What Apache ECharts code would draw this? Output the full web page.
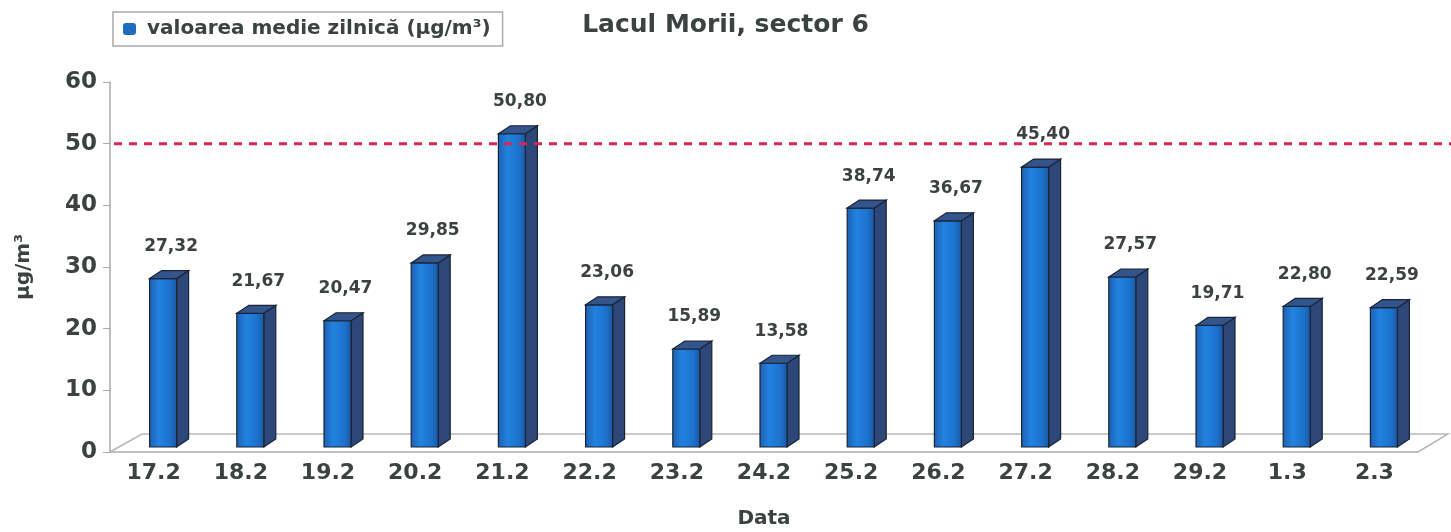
<!DOCTYPE html>
<html>
<head>
<meta charset="utf-8">
<script src="https://cdn.jsdelivr.net/npm/echarts@6/dist/echarts.min.js"></script>
<style>
    html, body { margin: 0; padding: 0; background: #fff; }
    #main { width: 1451px; height: 532px; }
</style>
</head>
<body>
<div id="main"></div>
<script>
var categories = ['17.2', '18.2', '19.2', '20.2', '21.2', '22.2', '23.2', '24.2', '25.2', '26.2', '27.2', '28.2', '29.2', '1.3', '2.3'];
var dailyMean = [27.32, 21.67, 20.47, 29.85, 50.80, 23.06, 15.89, 13.58, 38.74, 36.67, 45.40, 27.57, 19.71, 22.80, 22.59];
var limitValue = [50];
var yTicks = [0, 10, 20, 30, 40, 50, 60];

var chartDom = document.getElementById('main');
var myChart = echarts.init(chartDom);

initial();

function initial() {
    var textFont = 'DejaVu Sans, sans-serif';
    var textColor = '#3c4242';

    // 3D bar: front face, side face, top face + value label
    function renderBar(params, api) {
        var i = api.value(0);
        var v = api.value(1);
        var base = api.coord([i, 0]);
        var top = api.coord([i, v]);
        var bw = 27, dx = 12, dy = 8, lift = 5;
        var x0 = base[0] - 4;
        var x1 = x0 + bw;
        var yb = base[1] - lift;
        var yt = top[1] - lift;
        var stroke = '#1a2436';

        return {
            type: 'group',
            children: [
                {
                    type: 'polygon',
                    shape: { points: [[x1, yb], [x1 + dx, yb - dy], [x1 + dx, yt - dy], [x1, yt]] },
                    style: { fill: '#2c4778', stroke: stroke, lineWidth: 1.2 }
                },
                {
                    type: 'rect',
                    shape: { x: x0, y: yt, width: bw, height: yb - yt },
                    style: {
                        fill: new echarts.graphic.LinearGradient(0, 0, 1, 0, [
                            { offset: 0, color: '#1d5fb0' },
                            { offset: 0.35, color: '#2283e0' },
                            { offset: 0.75, color: '#1c72cc' },
                            { offset: 1, color: '#1a56a0' }
                        ]),
                        stroke: stroke,
                        lineWidth: 1.2
                    }
                },
                {
                    type: 'polygon',
                    shape: { points: [[x0, yt], [x0 + dx, yt - dy], [x1 + dx, yt - dy], [x1, yt]] },
                    style: { fill: '#34548c', stroke: stroke, lineWidth: 1.2 }
                },
                {
                    type: 'text',
                    x: x0 + bw / 2 + 8,
                    y: yt - 32,
                    style: {
                        text: v.toFixed(2).replace('.', ','),
                        font: 'bold 17px ' + textFont,
                        fill: textColor,
                        align: 'center',
                        verticalAlign: 'middle'
                    }
                }
            ]
        };
    }

    // grey floor parallelogram under the bars
    function renderFloor(params, api) {
        var cs = params.coordSys;
        var left = cs.x, right = cs.x + cs.width, y = cs.y + cs.height;
        var ox = 32, oy = 18;
        return {
            type: 'polyline',
            shape: { points: [[left, y], [left + ox, y - oy], [right + ox - 2, y - oy], [right, y]] },
            style: { stroke: '#b8b8b8', lineWidth: 1.5, fill: null }
        };
    }

    // red dashed limit line, reaching past the grid to the right edge
    function renderLimit(params, api) {
        var p = api.coord([0, api.value(0)]);
        return {
            type: 'line',
            shape: { x1: params.coordSys.x + 4, y1: p[1], x2: api.getWidth(), y2: p[1] },
            style: { stroke: '#d8284f', lineWidth: 3, lineDash: [8, 7] }
        };
    }

    var option = {
        animation: false,
        title: {
            text: 'Lacul Morii, sector 6',
            left: 'center',
            top: 8,
            textStyle: { fontFamily: textFont, fontSize: 25, fontWeight: 'bold', color: textColor }
        },
        legend: {
            left: 113,
            top: 12,
            padding: [7, 12, 7, 10],
            borderColor: '#aaa',
            borderWidth: 1.5,
            backgroundColor: '#fff',
            icon: 'roundRect',
            itemWidth: 13,
            itemHeight: 12,
            itemGap: 5,
            data: ['valoarea medie zilnică (µg/m³)'],
            textStyle: { fontFamily: textFont, fontSize: 20, fontWeight: 'bold', color: textColor, padding: [0, 0, 0, 6] }
        },
        grid: { left: 110, right: 33, top: 82, bottom: 80, outerBoundsMode: 'none' },
        xAxis: {
            type: 'category',
            data: categories,
            name: 'Data',
            nameLocation: 'middle',
            nameGap: 57,
            nameTextStyle: { fontFamily: textFont, fontSize: 20, fontWeight: 'bold', color: textColor },
            axisLine: { lineStyle: { color: '#aaa', width: 1.5 } },
            axisTick: { length: 7, lineStyle: { color: '#aaa' } },
            axisLabel: { fontFamily: textFont, fontSize: 22, fontWeight: 'bold', color: textColor, margin: 10 }
        },
        yAxis: {
            type: 'value',
            min: yTicks[0],
            max: yTicks[yTicks.length - 1],
            interval: 10,
            name: 'µg/m³',
            nameLocation: 'middle',
            nameGap: 76,
            nameRotate: 90,
            nameTextStyle: { fontFamily: textFont, fontSize: 20, fontWeight: 'bold', color: textColor },
            splitLine: { show: false },
            axisLine: { show: true, lineStyle: { color: '#aaa', width: 1.5 } },
            axisTick: { show: true, length: 7, lineStyle: { color: '#aaa' } },
            axisLabel: { fontFamily: textFont, fontSize: 23, fontWeight: 'bold', color: textColor, margin: 13 }
        },
        series: [
            {
                name: 'floor',
                type: 'custom',
                renderItem: renderFloor,
                data: [[0]],
                silent: true,
                z: 1
            },
            {
                name: 'valoarea medie zilnică (µg/m³)',
                type: 'custom',
                renderItem: renderBar,
                itemStyle: { color: '#1e6cc0' },
                data: dailyMean.map(function (v, i) { return [i, v]; }),
                z: 2
            },
            {
                name: 'limit',
                type: 'custom',
                renderItem: renderLimit,
                data: limitValue.map(function (v) { return [v]; }),
                silent: true,
                z: 3
            }
        ]
    };

    myChart.setOption(option);
}
</script>
</body>
</html>
